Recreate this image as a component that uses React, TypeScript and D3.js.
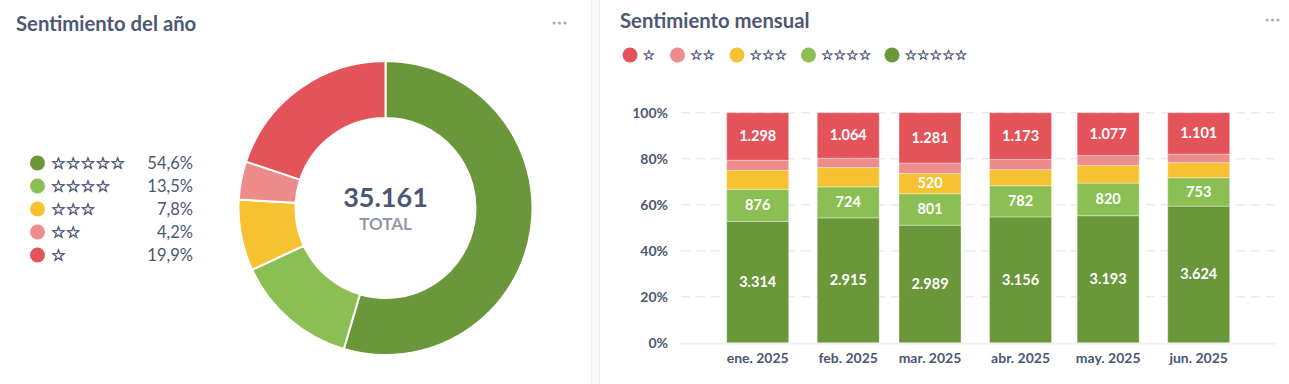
import React from "react";
import * as d3 from "d3";

// ---- data ----
const ratingKeys = ["five", "four", "three", "two", "one"];
const ratingLabels = ["☆☆☆☆☆", "☆☆☆☆", "☆☆☆", "☆☆", "☆"];
const ratingColors = ["#69973a", "#8bbf53", "#f6c231", "#ee8b8b", "#e5535a"];
const yearTotals = [19191, 4756, 2743, 1477, 6994];

const months = ["2025-01-01", "2025-02-01", "2025-03-01", "2025-04-01", "2025-05-01", "2025-06-01"];
const monthLabels = ["ene. 2025", "feb. 2025", "mar. 2025", "abr. 2025", "may. 2025", "jun. 2025"];
const fiveStars = [3314, 2915, 2989, 3156, 3193, 3624];
const fourStars = [876, 724, 801, 782, 820, 753];
const threeStars = [520, 450, 520, 405, 448, 400];
const twoStars = [274, 218, 260, 255, 245, 225];
const oneStar = [1298, 1064, 1281, 1173, 1077, 1101];
const yTicks = [0, 0.2, 0.4, 0.6, 0.8, 1];

const locale = d3.formatLocale({ decimal: ",", thousands: ".", grouping: [3], currency: ["", "€"] });
const fmtNum = locale.format(",d");
const fmtPct = locale.format(".1%");
const fmtTick = locale.format(".0%");

const TEXT = "#4c5773";
const FONT = "Lato, 'Noto Sans', sans-serif";
const STARFONT = "'DejaVu Sans', sans-serif";

function Donut() {
  const cx = 385.5, cy = 208, rOut = 147, rIn = 90;
  const pie = d3.pie<number>().sort(null).value((d) => d)(yearTotals);
  const arc = d3.arc<d3.PieArcDatum<number>>().innerRadius(rIn).outerRadius(rOut);
  const total = d3.sum(yearTotals);
  return (
    <g>
      <g transform={`translate(${cx},${cy})`}>
        {pie.map((p, i) => (
          <path key={i} d={arc(p) || ""} fill={ratingColors[i]} stroke="#fff" strokeWidth={2} />
        ))}
        <text x={0} y={-1} textAnchor="middle" fontFamily={FONT} fontWeight={700} fontSize={27} fill={TEXT}>
          {fmtNum(total)}
        </text>
        <text x={0} y={22} textAnchor="middle" fontFamily={FONT} fontWeight={700} fontSize={17} fill="#949aab">
          TOTAL
        </text>
      </g>
      {yearTotals.map((v, i) => {
        const y = 163 + i * 23;
        return (
          <g key={i}>
            <circle cx={37.5} cy={y} r={7.5} fill={ratingColors[i]} />
            <text
              x={51}
              y={y + 6}
              fontFamily={STARFONT}
              fontSize={16.5}
              fill={TEXT}
              stroke={TEXT}
              strokeWidth={0.6}
            >
              {ratingLabels[i]}
            </text>
            <text x={193} y={y + 6} textAnchor="end" fontFamily={FONT} fontSize={16.5} fill={TEXT}>
              {fmtPct(v / total)}
            </text>
          </g>
        );
      })}
    </g>
  );
}

function Bars() {
  const rows = months.map((m, i) => ({
    date: d3.timeParse("%Y-%m-%d")(m) as Date,
    five: fiveStars[i],
    four: fourStars[i],
    three: threeStars[i],
    two: twoStars[i],
    one: oneStar[i],
  }));
  const x = d3
    .scaleTime()
    .domain([rows[0].date, rows[rows.length - 1].date])
    .range([757.7, 1198.7]);
  const y = d3.scaleLinear().domain([0, 1]).range([342.7, 112.7]);
  const stack = d3.stack<any>().keys(ratingKeys).offset(d3.stackOffsetExpand);
  const series = stack(rows);
  const bw = 62;
  const gx0 = 681, gx1 = 1275;

  // legend order: one -> five
  const legendOrder = [4, 3, 2, 1, 0];
  let lx = 630;
  const legendItems = legendOrder.map((ki) => {
    const item = { ki, cx: lx };
    lx += 13.5 + ratingLabels[ki].length * 12 + 22;
    return item;
  });

  return (
    <g>
      {legendItems.map((it) => (
        <g key={it.ki}>
          <circle cx={it.cx} cy={55} r={7.5} fill={ratingColors[it.ki]} />
          <text
            x={it.cx + 12.5}
            y={60}
            fontFamily={STARFONT}
            fontSize={14}
            fill={TEXT}
            stroke={TEXT}
            strokeWidth={0.5}
          >
            {ratingLabels[it.ki]}
          </text>
        </g>
      ))}
      {yTicks.map((t) => (
        <g key={t}>
          {t > 0 && (
            <line x1={gx0} x2={gx1} y1={y(t)} y2={y(t)} stroke="#e9ebef" strokeWidth={1.5} strokeDasharray="9 6" />
          )}
          <text x={668} y={y(t) + 5} textAnchor="end" fontFamily={FONT} fontWeight={700} fontSize={14} fill={TEXT}>
            {fmtTick(t)}
          </text>
        </g>
      ))}
      <line x1={gx0} x2={gx1} y1={y(0) + 1} y2={y(0) + 1} stroke="#eeeff1" strokeWidth={2} />
      {series.map((s) => {
        const ki = ratingKeys.indexOf(s.key);
        return (
          <g key={s.key}>
            {s.map((d, j) => {
              const y0 = y(d[0]);
              const y1 = y(d[1]);
              const h = y0 - y1;
              const xc = x(rows[j].date);
              const val = (rows[j] as any)[s.key] as number;
              return (
                <g key={j}>
                  <rect
                    x={xc - bw / 2}
                    y={y1}
                    width={bw}
                    height={h}
                    fill={ratingColors[ki]}
                    stroke="rgba(255,255,255,0.35)"
                    strokeWidth={1}
                  />
                  {h >= 20 && (
                    <text
                      x={xc}
                      y={(y0 + y1) / 2 + 5}
                      textAnchor="middle"
                      fontFamily={FONT}
                      fontWeight={700}
                      fontSize={14.5}
                      fill="#fff"
                    >
                      {fmtNum(val)}
                    </text>
                  )}
                </g>
              );
            })}
          </g>
        );
      })}
      {rows.map((r, i) => (
        <text
          key={i}
          x={x(r.date)}
          y={363}
          textAnchor="middle"
          fontFamily={FONT}
          fontWeight={700}
          fontSize={14}
          fill={TEXT}
        >
          {monthLabels[i]}
        </text>
      ))}
    </g>
  );
}

function Dots({ x, y }: { x: number; y: number }) {
  return (
    <g fill="#a3a9b7">
      {[0, 5.5, 11].map((d) => (
        <circle key={d} cx={x + d} cy={y} r={1.5} />
      ))}
    </g>
  );
}

export default function App() {
  return (
    <svg
      width={1289}
      height={384}
      style={{ position: "absolute", left: 0, top: 0, background: "#fff" }}
    >
      <rect x={591} y={0} width={9} height={384} fill="#f8f9fb" />
      <line x1={591.5} x2={591.5} y1={0} y2={384} stroke="#eceef2" />
      <line x1={599.5} x2={599.5} y1={0} y2={384} stroke="#eceef2" />
      <text x={16} y={31} fontFamily={FONT} fontWeight={700} fontSize={20.3} fill={TEXT}>
        Sentimiento del año
      </text>
      <Dots x={554} y={23} />
      <text x={620} y={28} fontFamily={FONT} fontWeight={700} fontSize={20.3} fill={TEXT}>
        Sentimiento mensual
      </text>
      <Dots x={1267} y={20} />
      <Donut />
      <Bars />
    </svg>
  );
}
